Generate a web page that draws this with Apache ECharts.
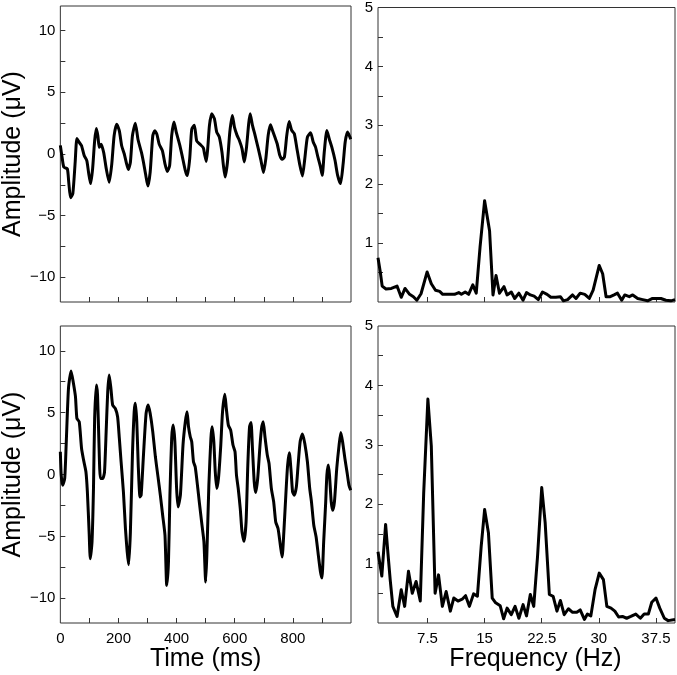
<!DOCTYPE html>
<html>
<head>
<meta charset="utf-8">
<script src="https://cdn.jsdelivr.net/npm/echarts@6/dist/echarts.min.js"></script>
<style>
html,body{margin:0;padding:0;background:#fff;}
#chart{width:677px;height:675px;}
</style>
</head>
<body>
<div id="chart"></div>
<script>
// ---- data ----
// time-domain EEG, [time ms, amplitude µV]
const eegTop = [[0,0.7],[6,-0.27],[12,-1.07],[24,-1.2],[29,-2.3],[35,-3.55],[43,-3.2],[51,-0.67],[57,1.26],[65,0.94],[73,0.67],[82,-0.13],[91,-0.54],[97,-1.48],[104,-2.4],[111,-1.2],[118,1.07],[124,2.07],[129,1.48],[134,0.54],[140,0.8],[149,0.13],[158,-1.2],[168,-2.3],[177,-0.8],[185,1.48],[194,2.42],[203,1.88],[211,0.67],[220,0],[228,-0.8],[234,-1.26],[241,-0.67],[248,1.48],[258,2.5],[267,1.2],[279,0.13],[286,-0.67],[293,-1.6],[301,-2.6],[309,-1.48],[318,1.48],[325,1.88],[332,1.61],[340,0.8],[351,0.27],[360,-0.8],[368,-1.42],[376,-0.94],[383,1.48],[391,2.6],[399,1.75],[410,0.8],[419,-0.13],[430,-1.34],[437,-1.75],[445,-0.4],[452,2.0],[461,2.34],[469,1.07],[480,0.8],[492,0.5],[496,0.02],[502,-0.6],[507,0.43],[513,2.32],[521,3.26],[530,2.86],[538,1.78],[547,1.37],[556,0.16],[561,-0.92],[567,-1.86],[575,-0.65],[583,1.78],[592,3.13],[599,2.18],[608,1.51],[616,1.1],[625,0.43],[633,-0.65],[640,0.43],[648,2.45],[653,3.26],[661,2.32],[670,1.51],[681,0.43],[690,-0.5],[699,-1.51],[707,-0.38],[715,1.51],[723,2.37],[730,1.91],[738,1.37],[746,0.83],[755,-0.11],[763,-0.43],[771,-0.24],[779,1.51],[787,2.64],[796,1.91],[805,1.64],[814,0.43],[823,-0.78],[833,-1.78],[841,-0.38],[850,1.37],[861,1.72],[870,0.97],[878,0.56],[886,-0.24],[895,-1.05],[901,-1.73],[908,0.16],[917,1.91],[925,1.24],[934,0.56],[945,-0.51],[954,-1.73],[964,-2.4],[973,-0.78],[980,0.97],[988,1.78],[995,1.45],[999,1.2]];

const eegBottom = [[0,1.84],[3,-0.05],[8,-0.86],[15,-0.32],[20,2.38],[28,6.96],[37,8.37],[45,7.37],[52,6.29],[57,4.53],[65,4.26],[73,2.1],[80,1.16],[88,0.22],[93,-1.4],[99,-4.64],[103,-6.8],[109,-5.45],[114,-1.13],[118,4.53],[124,7.23],[128,6.42],[133,2.38],[138,-0.32],[146,-0.32],[152,0.22],[158,3.72],[163,6.69],[168,8.04],[174,6.96],[180,5.61],[189,5.34],[197,4.67],[203,2.91],[209,1.03],[217,-1.4],[224,-4.37],[230,-6.26],[235,-7.29],[241,-4.64],[248,1.57],[254,5.07],[258,5.75],[263,4.26],[268,0.76],[274,-1.81],[278,-1.67],[286,1.57],[295,4.94],[302,5.61],[309,4.94],[318,3.45],[327,1.43],[336,-0.19],[344,-1.67],[352,-3.29],[360,-4.91],[366,-8.96],[372,-7.07],[377,-1.67],[383,2.91],[388,3.99],[394,2.65],[400,-1.13],[405,-2.62],[413,-1.67],[422,2.38],[430,4.26],[436,5.07],[441,3.86],[447,3.05],[452,2.65],[458,1.03],[464,0.62],[473,-1.13],[478,-2.21],[486,-3.83],[494,-5.45],[500,-8.69],[504,-6.53],[511,-0.86],[518,2.91],[522,3.86],[528,2.65],[533,0.22],[538,-1.13],[544,-0.32],[552,2.38],[558,5.07],[566,6.48],[571,5.34],[578,3.99],[586,3.59],[594,2.38],[601,1.84],[606,-0.05],[612,-1.13],[619,-2.75],[625,-4.64],[632,-5.4],[639,-3.83],[645,0.76],[651,3.86],[656,4.21],[661,2.1],[667,-0.59],[672,-1.46],[679,-0.32],[687,2.38],[693,3.86],[698,4.26],[704,3.05],[712,1.57],[718,0.89],[726,-1.13],[734,-2.21],[741,-3.83],[749,-4.37],[757,-5.72],[763,-6.67],[769,-4.64],[777,-1.13],[782,0.76],[788,1.75],[794,0.22],[799,-1.4],[805,-1.67],[812,-1.0],[818,0.76],[825,2.65],[833,3.27],[841,2.51],[850,1.03],[858,-1.13],[864,-2.21],[872,-4.1],[880,-5.05],[889,-6.8],[895,-7.88],[900,-8.37],[906,-5.45],[913,-2.21],[917,-0.05],[922,0.76],[926,-0.05],[932,-2.21],[937,-2.89],[943,-2.21],[951,0.49],[959,2.38],[965,3.4],[971,2.65],[979,1.3],[987,0.08],[993,-0.86],[999,-1.27]];

// amplitude spectra, [frequency Hz, amplitude]
const specTop = [[1,0.75],[1.3,0.51],[1.55,0.27],[2.05,0.22],[2.75,0.23],[3.5,0.27],[4.05,0.08],[4.55,0.23],[5.15,0.13],[5.65,0.09],[6.1,0.03],[6.65,0.14],[7.45,0.51],[8,0.31],[8.55,0.2],[9.1,0.18],[9.5,0.13],[10.15,0.13],[11.05,0.13],[11.6,0.16],[11.95,0.13],[12.45,0.17],[12.9,0.13],[13.45,0.29],[13.9,0.15],[14.4,0.93],[15,1.72],[15.65,1.21],[16.1,0.12],[16.5,0.45],[16.95,0.15],[17.55,0.26],[17.95,0.12],[18.5,0.17],[18.95,0.06],[19.5,0.15],[20.05,0.03],[20.5,0.16],[21,0.12],[21.5,0.1],[22.05,0.04],[22.6,0.17],[23.2,0.13],[23.7,0.08],[24.35,0.08],[24.95,0.09],[25.35,0.02],[25.9,0.04],[26.55,0.12],[27,0.06],[27.55,0.15],[28.15,0.13],[28.75,0.06],[29.25,0.2],[30.05,0.62],[30.5,0.48],[30.95,0.09],[31.5,0.09],[32,0.12],[32.45,0.15],[33,0.03],[33.4,0.12],[34,0.09],[34.45,0.12],[35.1,0.06],[35.75,0.04],[36.4,0.02],[37.05,0.06],[37.7,0.06],[38.15,0.06],[38.8,0.03],[39.45,0.02],[40,0.04]];

const specBottom = [[1,1.2],[1.5,0.79],[2,1.66],[2.3,1.18],[2.6,0.73],[2.95,0.28],[3.5,0.11],[4.05,0.56],[4.5,0.28],[5,0.87],[5.5,0.5],[6,0.7],[6.55,0.37],[7,2.19],[7.55,3.77],[8,2.98],[8.5,0.5],[8.95,0.81],[9.45,0.28],[9.95,0.53],[10.5,0.2],[10.95,0.42],[11.5,0.37],[12.05,0.4],[12.5,0.46],[13,0.28],[13.55,0.49],[14.05,0.45],[14.55,1.29],[15,1.91],[15.5,1.52],[16,0.42],[16.45,0.34],[17.05,0.29],[17.5,0.07],[17.95,0.25],[18.5,0.14],[19,0.28],[19.5,0.08],[20.05,0.31],[20.5,0.12],[21,0.48],[21.45,0.28],[21.95,1.12],[22.5,2.28],[22.95,1.69],[23.5,0.48],[24,0.45],[24.5,0.2],[24.95,0.38],[25.45,0.14],[26,0.24],[26.55,0.18],[27.1,0.18],[27.55,0.22],[28.1,0.06],[28.5,0.15],[28.95,0.12],[29.5,0.56],[30.05,0.84],[30.6,0.73],[31.05,0.28],[31.6,0.25],[32.1,0.2],[32.6,0.1],[33.1,0.11],[33.65,0.08],[34.2,0.11],[34.85,0.15],[35.45,0.08],[35.95,0.15],[36.5,0.15],[36.95,0.35],[37.5,0.42],[38,0.25],[38.6,0.08],[39.1,0.04],[40,0.06]];

// tick marks / labels
const ampTicks = [-10,-7.5,-5,-2.5,0,2.5,5,7.5,10];
const ampLabels = [-10,-5,0,5,10];
const timeTicks = [100,200,300,400,500,600,700,800,900];
const timeLabels = [0,200,400,600,800];
const freqTicks = [7.5,15,22.5,30,37.5];
const freqLabels = [7.5,15,22.5,30,37.5];
const specTicks = [0.5,1,1.5,2,2.5,3,3.5,4,4.5];
const specLabels = [1,2,3,4,5];

const FONT = '"Liberation Sans", Arial, Helvetica, sans-serif';
const minus = v => String(v).replace('-', '\u2212');

function xAxisDef(idx, kind, showLabels, name) {
  const isTime = kind === 'time';
  return {
    type: 'value', gridIndex: idx, position: 'bottom',
    min: isTime ? 0 : 1, max: isTime ? 1000 : 40,
    axisLine: {show: false, onZero: false},
    splitLine: {show: false},
    axisTick: {show: true, inside: true, length: 5, lineStyle: {color: '#333', width: 1},
               customValues: isTime ? timeTicks : freqTicks},
    axisLabel: {show: showLabels, customValues: isTime ? timeLabels : freqLabels,
                align: 'center', alignMinLabel: 'center', alignMaxLabel: 'center',
                hideOverlap: false,
                color: '#000', fontSize: 15, fontFamily: FONT, margin: 8},
    name: name || '', nameLocation: 'middle', nameGap: 21,
    nameTextStyle: {color: '#000', fontSize: 25, fontFamily: FONT,
                    padding: kind === 'freq' ? [0, 0, 0, 18] : 0}
  };
}
function yAxisDef(idx, kind, name) {
  const isAmp = kind === 'amp';
  return {
    type: 'value', gridIndex: idx, position: 'left',
    min: isAmp ? -12 : 0, max: isAmp ? 12 : 5,
    axisLine: {show: false, onZero: false},
    splitLine: {show: false},
    axisTick: {show: true, inside: true, length: 5, lineStyle: {color: '#333', width: 1},
               customValues: isAmp ? ampTicks : specTicks},
    axisLabel: {show: true, customValues: isAmp ? ampLabels : specLabels,
                align: 'right', alignMinLabel: 'right', alignMaxLabel: 'right',
                verticalAlign: 'middle', verticalAlignMinLabel: 'middle', verticalAlignMaxLabel: 'middle',
                hideOverlap: false,
                color: '#000', fontSize: 15, fontFamily: FONT, margin: 5, formatter: minus},
    name: name || '', nameLocation: 'middle', nameGap: 30,
    nameTextStyle: {color: '#000', fontSize: 25, fontFamily: FONT}
  };
}
function lineSeries(idx, data, smooth) {
  return {
    type: 'line', xAxisIndex: idx, yAxisIndex: idx, data: data,
    showSymbol: false, smooth: smooth, animation: false,
    lineStyle: {color: '#000', width: 3, join: 'round'}
  };
}

const gridStyle = {show: true, borderColor: '#333', borderWidth: 1, backgroundColor: '#fff'};
const chart = echarts.init(document.getElementById('chart'), null, {renderer: 'canvas'});
chart.setOption({
  backgroundColor: '#fff',
  animation: false,
  grid: [
    Object.assign({left: 54, top: 6, width: 297, height: 296}, gridStyle),
    Object.assign({left: 54, top: 326, width: 297, height: 297}, gridStyle),
    Object.assign({left: 378, top: 6, width: 297, height: 296}, gridStyle),
    Object.assign({left: 378, top: 326, width: 297, height: 297}, gridStyle)
  ],
  xAxis: [
    xAxisDef(0, 'time', false),
    xAxisDef(1, 'time', true, 'Time (ms)'),
    xAxisDef(2, 'freq', false),
    xAxisDef(3, 'freq', true, 'Frequency (Hz)')
  ],
  yAxis: [
    yAxisDef(0, 'amp', 'Amplitude (\u03bcV)'),
    yAxisDef(1, 'amp', 'Amplitude (\u03bcV)'),
    yAxisDef(2, 'spec'),
    yAxisDef(3, 'spec')
  ],
  series: [
    lineSeries(0, eegTop, 0.2),
    lineSeries(1, eegBottom, 0.2),
    lineSeries(2, specTop, false),
    lineSeries(3, specBottom, false)
  ]
});
</script>
</body>
</html>
